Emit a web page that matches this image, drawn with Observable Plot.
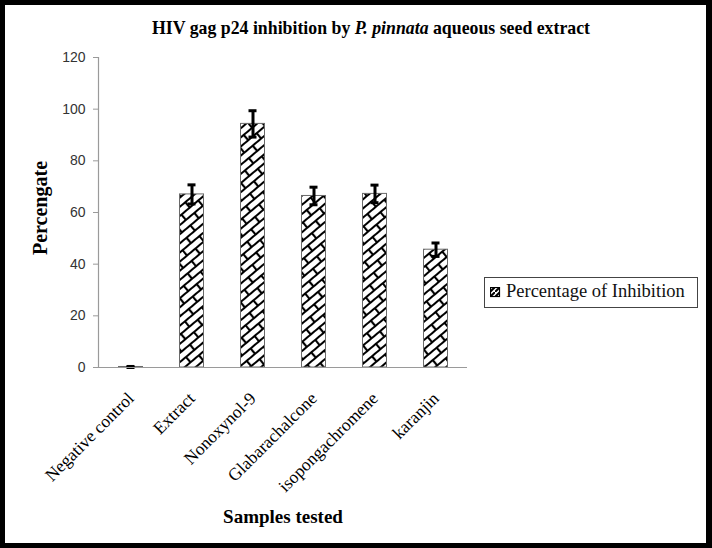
<!DOCTYPE html>
<html>
<head>
<meta charset="utf-8">
<script src="https://cdn.jsdelivr.net/npm/d3@7"></script>
<script src="https://cdn.jsdelivr.net/npm/@observablehq/plot@0.6"></script>
<style>
  html, body { margin: 0; padding: 0; background: #fff; }
  #wrap { position: relative; width: 712px; height: 548px; overflow: hidden; }
  #frame { position: absolute; left: 0; top: 0; width: 712px; height: 548px; box-sizing: border-box; border: 5px solid #000; border-right-width: 6px; pointer-events: none; }
  .t { position: absolute; font-family: "Liberation Serif", "Times New Roman", serif; color: #000; white-space: nowrap; }
  #title { left: 371px; top: 28px; font-weight: bold; font-size: 17.8px; transform: translate(-50%, -50%); }
  #ylab { left: 40px; top: 208px; font-weight: bold; font-size: 20px; transform: translate(-50%, -50%) rotate(-90deg); }
  #xlab { left: 283px; top: 517px; font-weight: bold; font-size: 19px; transform: translate(-50%, -50%); }
  #legend { position: absolute; left: 484px; top: 277px; width: 214px; height: 31px; box-sizing: border-box; border: 1px solid #444; background: #fff; }
  #legend svg { position: absolute; left: 5px; top: 9px; }
  #legend span { position: absolute; left: 21px; top: 3px; font-family: "Liberation Serif", "Times New Roman", serif; font-size: 18.5px; color: #111; white-space: nowrap; }
</style>
</head>
<body>
<div id="wrap">
  <div id="chart"></div>
  <div class="t" id="title">HIV gag p24 inhibition by <i>P. pinnata</i> aqueous seed extract</div>
  <div class="t" id="ylab">Percengate</div>
  <div class="t" id="xlab">Samples tested</div>
  <div id="legend">
    <svg width="11" height="11"><rect x="0.5" y="0.5" width="9" height="9" fill="url(#weaveSmall)" stroke="#000" stroke-width="1.2"/>
      <defs><pattern id="weaveSmall" width="5" height="5" patternUnits="userSpaceOnUse"><rect width="5" height="5" fill="#fff"/><path d="M0,5 L5,0" stroke="#000" stroke-width="2"/></pattern></defs>
    </svg>
    <span>Percentage of Inhibition</span>
  </div>
  <div id="frame"></div>
</div>
<script>
const names = ["Negative control", "Extract", "Nonoxynol-9", "Glabarachalcone", "isopongachromene", "karanjin"];
const values = [0.2, 67.0, 94.3, 66.4, 67.2, 45.6];
const errors = [0.2, 3.7, 5.1, 3.4, 3.4, 2.6];
const yTicks = [0, 20, 40, 60, 80, 100, 120];

const data = names.map((n, i) => ({name: n, value: values[i], lo: values[i] - errors[i], hi: values[i] + errors[i]}));

const chart = Plot.plot({
  width: 712,
  height: 548,
  marginLeft: 98,
  marginRight: 245,
  marginTop: 57,
  marginBottom: 181,
  style: {background: "transparent", overflow: "visible"},
  x: {domain: names, padding: 0, label: null},
  y: {domain: [0, 120], label: null},
  marks: [
    Plot.barY(data, {x: "name", y: "value", fill: "url(#weave)", stroke: "#6a6a6a", strokeWidth: 1, insetLeft: 18.5, insetRight: 18.5}),
    Plot.ruleX(data, {x: "name", y1: "lo", y2: "hi", stroke: "#000", strokeWidth: 3}),
    Plot.tickY(data, {x: "name", y: "lo", stroke: "#000", strokeWidth: 3, insetLeft: 26.5, insetRight: 26.5}),
    Plot.tickY(data, {x: "name", y: "hi", stroke: "#000", strokeWidth: 3, insetLeft: 26.5, insetRight: 26.5}),
    Plot.ruleY([0], {stroke: "#9a9a9a", strokeWidth: 1.2}),
    Plot.frame({anchor: "left", stroke: "#9a9a9a", strokeWidth: 1.2}),
    Plot.axisY({ticks: yTicks, tickSize: 5, tickPadding: 8, stroke: "#9a9a9a", fontSize: 14, fill: "#333", fontFamily: "Liberation Sans, sans-serif", label: null}),
    Plot.axisX({tickSize: 0, tickRotate: -45, tickPadding: 28, dx: 0, fontSize: 17.5, fill: "#000", fontFamily: "Liberation Serif, serif", label: null})
  ]
});

const ns = "http://www.w3.org/2000/svg";
const defs = document.createElementNS(ns, "defs");
defs.innerHTML = `<pattern id="weave" width="22" height="14" patternUnits="userSpaceOnUse" patternTransform="rotate(-40)">
  <rect width="22" height="14" fill="#fff"/>
  <path d="M0,1 H22 M0,8 H22 M1,1 V8 M12,8 V15" stroke="#000" stroke-width="2.2" fill="none" stroke-linejoin="round"/>
</pattern>`;
chart.insertBefore(defs, chart.firstChild);
document.getElementById("chart").appendChild(chart);
</script>
</body>
</html>
